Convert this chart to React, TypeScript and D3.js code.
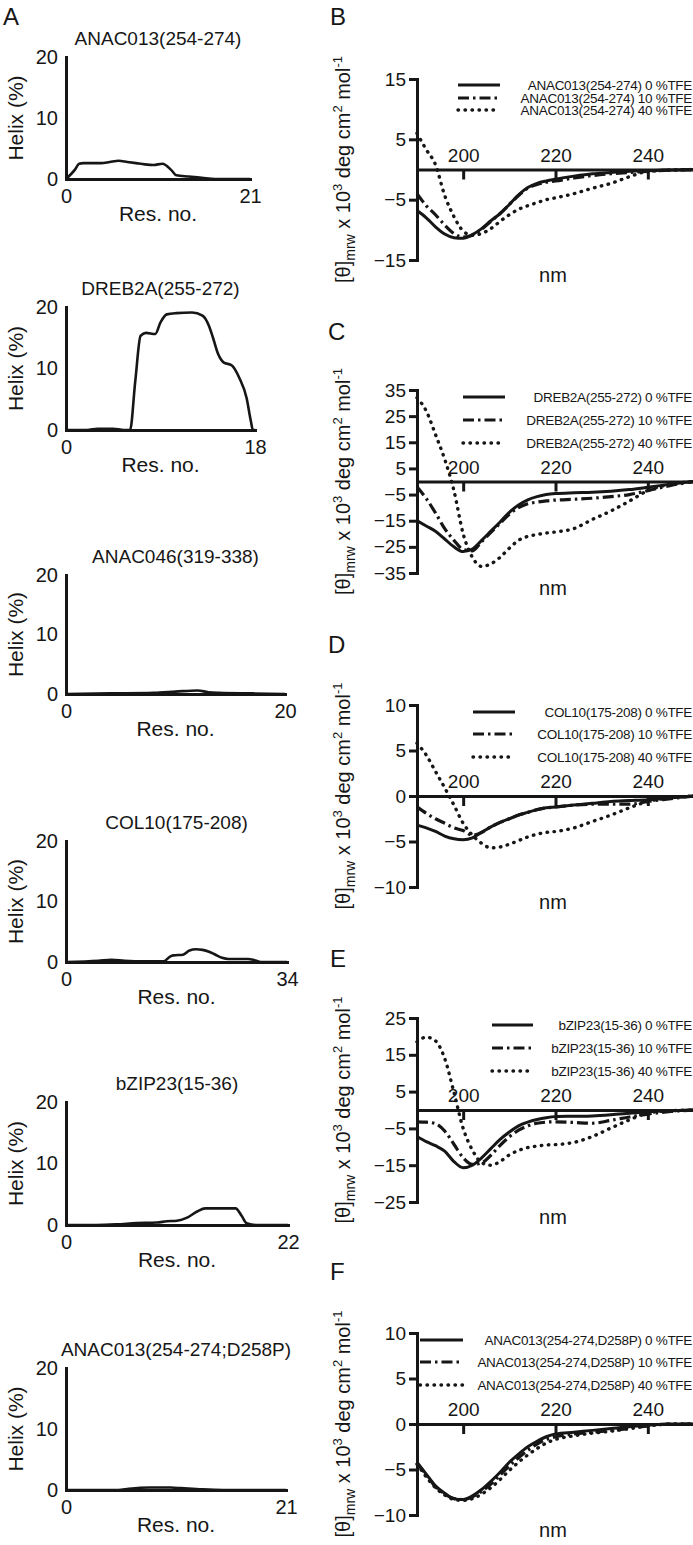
import React, { useEffect, useRef } from "react";
import * as d3 from "d3";

type Pt = [number, number];

// ---- helix propensity per residue (left column) ----
const helixAnac013: Pt[] = [
  [0, 0], [1, 1.5], [1.5, 2.5], [2, 2.6], [4, 2.6], [5, 2.8], [6, 3.0], [7, 2.8],
  [8, 2.6], [9, 2.4], [10, 2.3], [11, 2.5], [12, 1.5], [12.6, 0.6], [14, 0.4],
  [15.5, 0.2], [17, 0], [21, 0],
];
const helixDreb2a: Pt[] = [
  [0, 0], [2, 0], [3, 0.2], [4.5, 0.2], [5.5, 0], [6.1, 0], [6.6, 8], [7.1, 15.3],
  [7.6, 15.8], [8.5, 15.6], [9, 17.5], [9.6, 18.8], [10.5, 19], [12, 19.1],
  [13, 18.6], [13.6, 17], [14, 15], [14.5, 12.3], [15, 11], [15.8, 10.5],
  [16.5, 8.5], [17.2, 5.2], [17.6, 1.5], [17.8, 0], [18, 0],
];
const helixAnac046: Pt[] = [
  [0, 0], [4, 0.1], [8, 0.2], [10, 0.4], [12, 0.6], [13, 0.3], [14, 0.2], [17, 0.1], [20, 0],
];
const helixCol10: Pt[] = [
  [0, 0], [5, 0.2], [7, 0.35], [9, 0.2], [12, 0.1], [15, 0.1], [16, 0.9], [16.5, 1.1],
  [18, 1.2], [19, 1.9], [20, 2.1], [21, 2.0], [22, 1.7], [23, 1.2], [24, 0.7],
  [25, 0.5], [28, 0.5], [29, 0.3], [30, 0], [34, 0],
];
const helixBzip23: Pt[] = [
  [0, 0], [3, 0], [5, 0.1], [7, 0.3], [9, 0.4], [10, 0.6], [11, 0.7], [12, 1.2],
  [13, 2.2], [13.8, 2.7], [16.8, 2.7], [17.4, 1.5], [17.9, 0.3], [19, 0], [22, 0],
];
const helixAnac013D258P: Pt[] = [
  [0, 0], [5, 0], [6, 0.2], [8, 0.4], [10, 0.4], [11, 0.3], [13, 0.1], [15, 0], [21, 0],
];

// ---- CD spectra (right column), x 10^3 deg cm2 mol-1 ----
const wavelengths = [190, 192, 194, 196, 198, 200, 202, 204, 206, 208, 210, 212, 214, 216, 218, 220, 224, 228, 232, 236, 240, 245, 250];

const cdB0 = [-6.8, -8, -9.5, -10.7, -11.3, -11.4, -10.8, -9.8, -8.5, -7.3, -5.8, -4.2, -3, -2.3, -1.9, -1.6, -1.1, -0.7, -0.5, -0.3, -0.2, -0.1, 0];
const cdB10 = [-4, -6, -7.5, -9.2, -10.6, -11.2, -10.9, -9.9, -8.6, -7.3, -5.8, -4.3, -3.1, -2.5, -2.1, -1.9, -1.4, -1, -0.7, -0.5, -0.3, -0.1, 0];
const cdB40 = [6, 3.3, 0.8, -4.3, -7.8, -10.2, -10.9, -10.6, -9.8, -8.6, -7.5, -6.6, -6, -5.5, -5, -4.7, -4, -3.1, -2.3, -1.2, -0.3, -0.1, 0];

const cdC0 = [-15, -17, -19, -22, -25, -26.8, -25.8, -22.5, -19, -15.5, -11.8, -9, -7, -5.8, -5, -4.6, -4.3, -4.1, -3.7, -3.1, -2.2, -1, 0];
const cdC10 = [-2, -6.5, -12, -18, -22.5, -26, -26.5, -23, -19.5, -16, -12.5, -10, -8.5, -7.9, -7.4, -7.1, -6.8, -6.4, -5.8, -5, -3.5, -1.5, 0];
const cdC40 = [32, 27, 18, 8.5, -3.5, -20, -29, -32.5, -31.5, -29, -25.5, -22.5, -21, -20.3, -19.7, -19.3, -18, -14.5, -11.3, -7.5, -3.5, -1, 0];

const cdD0 = [-3.2, -3.5, -3.9, -4.4, -4.7, -4.8, -4.6, -4, -3.4, -2.9, -2.5, -2.1, -1.8, -1.5, -1.3, -1.2, -1, -0.8, -0.6, -0.5, -0.4, -0.2, 0];
const cdD10 = [-1.2, -1.9, -2.5, -3, -3.5, -3.8, -4.3, -4, -3.4, -2.9, -2.5, -2.1, -1.8, -1.5, -1.3, -1.2, -1, -0.9, -0.9, -0.9, -0.6, -0.3, 0];
const cdD40 = [5.8, 4.5, 2.7, 0.9, -1, -3, -4.3, -5.2, -5.7, -5.6, -5.3, -4.9, -4.5, -4.2, -4, -3.9, -3.5, -2.8, -2.1, -1.3, -0.6, -0.2, 0];

const cdE0 = [-7.2, -8.6, -9.7, -11.2, -14, -15.7, -15, -13, -10.5, -8, -6, -4.3, -3.3, -2.6, -2.1, -1.8, -1.7, -1.6, -1.3, -0.9, -0.5, -0.2, 0];
const cdE10 = [-3.2, -3.3, -3.7, -5.7, -9.3, -13, -14.8, -14.4, -12.3, -9.6, -7.3, -5.5, -4.3, -3.6, -3.3, -3.2, -3.4, -3.6, -2.8, -1.9, -1.1, -0.4, 0];
const cdE40 = [18.5, 19.8, 18.8, 14, 4.8, -5, -10.9, -14.3, -15, -14, -12.2, -11, -10.2, -9.8, -9.5, -9.4, -8.8, -7.2, -4.9, -2.7, -0.8, -0.2, 0];

const cdF0 = [-4.2, -5.5, -6.8, -7.6, -8.2, -8.3, -7.9, -7.2, -6.3, -5.3, -4.2, -3.3, -2.5, -1.9, -1.4, -1.1, -0.9, -0.7, -0.5, -0.3, -0.15, 0, 0];
const cdF10 = [-4.3, -5.6, -6.9, -7.7, -8.2, -8.3, -8, -7.4, -6.6, -5.6, -4.6, -3.7, -2.9, -2.2, -1.7, -1.4, -1.1, -0.9, -0.7, -0.5, -0.2, 0, 0];
const cdF40 = [-4.4, -5.8, -7, -7.8, -8.3, -8.4, -8.2, -7.7, -7, -6.1, -5.1, -4.2, -3.4, -2.7, -2.1, -1.7, -1.3, -1, -0.8, -0.5, -0.2, 0, 0];

const tfeLevels = ["0", "10", "40"];
const nmTicks = [200, 220, 240];

const W = 693;
const H = 1545;
const FONT = "'Liberation Sans', Arial, Helvetica, sans-serif";
const INK = "#161616";

const leftPanels = [
  { title: "ANAC013(254-274)", data: helixAnac013, resMax: 21, top: 57, bottom: 179, right: 250 },
  { title: "DREB2A(255-272)", data: helixDreb2a, resMax: 18, top: 307, bottom: 430, right: 255 },
  { title: "ANAC046(319-338)", data: helixAnac046, resMax: 20, top: 575, bottom: 694, right: 285 },
  { title: "COL10(175-208)", data: helixCol10, resMax: 34, top: 841, bottom: 962, right: 287 },
  { title: "bZIP23(15-36)", data: helixBzip23, resMax: 22, top: 1102, bottom: 1225, right: 288 },
  { title: "ANAC013(254-274;D258P)", data: helixAnac013D258P, resMax: 21, top: 1368, bottom: 1490, right: 286 },
];

const rightPanels = [
  { name: "ANAC013(254-274)", series: [cdB0, cdB10, cdB40], ticks: [15, 5, -5, -15], top: 79, bottom: 260, lx: [458, 500], ly: [85, 98, 110] },
  { name: "DREB2A(255-272)", series: [cdC0, cdC10, cdC40], ticks: [35, 25, 15, 5, -5, -15, -25, -35], top: 390, bottom: 573, lx: [463, 505], ly: [397, 420, 443] },
  { name: "COL10(175-208)", series: [cdD0, cdD10, cdD40], ticks: [10, 5, 0, -5, -10], top: 705, bottom: 887, lx: [473, 515], ly: [712, 734, 757] },
  { name: "bZIP23(15-36)", series: [cdE0, cdE10, cdE40], ticks: [25, 15, 5, -5, -15, -25], top: 1018, bottom: 1202, lx: [492, 533], ly: [1025, 1048, 1071] },
  { name: "ANAC013(254-274,D258P)", series: [cdF0, cdF10, cdF40], ticks: [10, 5, 0, -5, -10], top: 1333, bottom: 1515, lx: [420, 463], ly: [1340, 1362, 1385] },
];

const letters: [string, number, number][] = [
  ["A", 3, 25], ["B", 330, 25], ["C", 328, 340], ["D", 328, 653], ["E", 330, 967], ["F", 330, 1280],
];

// solid, dash-dot, dotted
const lineStyles = [
  { dash: null as string | null, width: 3, cap: "butt" },
  { dash: "11,4,2.5,4", width: 3.2, cap: "butt" },
  { dash: "0.5,6.5", width: 3.4, cap: "round" },
];

const App: React.FC = () => {
  const ref = useRef<SVGSVGElement>(null);

  useEffect(() => {
    const svg = d3.select(ref.current);
    svg.selectAll("*").remove();
    svg.append("rect").attr("width", W).attr("height", H).attr("fill", "white");

    letters.forEach(([t, x, y]) => {
      svg.append("text").attr("x", x).attr("y", y).attr("font-size", 24)
        .attr("font-family", FONT).attr("fill", INK).text(t);
    });

    // ---- left column: helix (%) per residue ----
    leftPanels.forEach((p) => {
      const x = d3.scaleLinear().domain([0, p.resMax]).range([66, p.right]);
      const y = d3.scaleLinear().domain([0, 20]).range([p.bottom, p.top]);
      const g = svg.append("g");

      const yAxis = g.append("g").attr("transform", "translate(66,0)")
        .call(d3.axisLeft(y).tickValues([0, 10, 20]).tickSize(0).tickSizeOuter(0).tickPadding(8));
      const xAxis = g.append("g").attr("transform", `translate(0,${p.bottom})`)
        .call(d3.axisBottom(x).tickValues([0, p.resMax]).tickSize(0).tickSizeOuter(0).tickPadding(10));
      [yAxis, xAxis].forEach((a) => {
        a.attr("font-size", 20).attr("font-family", FONT);
        a.select(".domain").attr("stroke", INK).attr("stroke-width", 3).attr("stroke-linecap", "square");
        a.selectAll("text").attr("fill", INK);
      });

      const line = d3.line<Pt>()
        .x((d) => x(d[0]))
        .y((d) => y(d[1]))
        .curve(d3.curveMonotoneX);
      g.append("path").datum(p.data).attr("d", line(p.data) || "")
        .attr("fill", "none").attr("stroke", INK).attr("stroke-width", 2.6);

      const mid = (66 + p.right) / 2;
      g.append("text").attr("x", mid).attr("y", p.top - 12).attr("text-anchor", "middle")
        .attr("font-size", 19).attr("font-family", FONT).attr("fill", INK).text(p.title);
      g.append("text").attr("x", mid).attr("y", p.bottom + 42).attr("text-anchor", "middle")
        .attr("font-size", 21).attr("font-family", FONT).attr("fill", INK).text("Res. no.");
      g.append("text")
        .attr("transform", `translate(23,${(p.top + p.bottom) / 2}) rotate(-90)`)
        .attr("text-anchor", "middle").attr("font-size", 21).attr("font-family", FONT)
        .attr("fill", INK).text("Helix (%)");
    });

    // ---- right column: CD spectra ----
    rightPanels.forEach((p) => {
      const x = d3.scaleLinear().domain([190, 250]).range([417, 694]);
      const yMin = d3.min(p.ticks) || 0;
      const yMax = d3.max(p.ticks) || 0;
      const y = d3.scaleLinear().domain([yMin, yMax]).range([p.bottom, p.top]);
      const g = svg.append("g");

      const yAxis = g.append("g").attr("transform", "translate(417,0)")
        .call(d3.axisLeft(y).tickValues(p.ticks).tickSize(8).tickSizeOuter(0).tickPadding(3));
      const xAxis = g.append("g").attr("transform", `translate(0,${y(0)})`)
        .call(d3.axisBottom(x).tickValues(nmTicks).tickSize(10).tickSizeOuter(0).tickPadding(3));
      [yAxis, xAxis].forEach((a) => {
        a.attr("font-size", 19).attr("font-family", FONT);
        a.select(".domain").attr("stroke", INK).attr("stroke-width", 3).attr("stroke-linecap", "square");
        a.selectAll(".tick line").attr("stroke", INK).attr("stroke-width", 3);
        a.selectAll("text").attr("fill", INK);
      });
      // nm labels sit above the zero line
      xAxis.selectAll(".tick text").attr("y", -8).attr("dy", "0");

      p.series.forEach((vals, i) => {
        const pts: Pt[] = wavelengths.map((w, k) => [w, vals[k]]);
        const line = d3.line<Pt>()
          .x((d) => x(d[0]))
          .y((d) => y(d[1]))
          .curve(d3.curveMonotoneX);
        const st = lineStyles[i];
        const path = g.append("path").datum(pts).attr("d", line(pts) || "")
          .attr("fill", "none").attr("stroke", INK).attr("stroke-width", st.width)
          .attr("stroke-linecap", st.cap);
        if (st.dash) path.attr("stroke-dasharray", st.dash);

        // legend
        const leg = g.append("line").attr("x1", p.lx[0]).attr("x2", p.lx[1])
          .attr("y1", p.ly[i]).attr("y2", p.ly[i])
          .attr("stroke", INK).attr("stroke-width", st.width).attr("stroke-linecap", st.cap);
        if (st.dash) leg.attr("stroke-dasharray", st.dash);
        g.append("text").attr("x", 692).attr("y", p.ly[i] + 4.5).attr("text-anchor", "end")
          .attr("font-size", 13.5).attr("letter-spacing", -0.3).attr("font-family", FONT)
          .attr("fill", INK).text(`${p.name} ${tfeLevels[i]} %TFE`);
      });

      g.append("text").attr("x", 553).attr("y", p.bottom + 22).attr("text-anchor", "middle")
        .attr("font-size", 20).attr("font-family", FONT).attr("fill", INK).text("nm");

      const lab = g.append("text")
        .attr("transform", `translate(350,${(p.top + p.bottom) / 2}) rotate(-90)`)
        .attr("text-anchor", "middle").attr("font-size", 20).attr("font-family", FONT)
        .attr("fill", INK);
      lab.append("tspan").text("[θ]");
      lab.append("tspan").attr("font-size", 14).attr("dy", 5).text("mrw");
      lab.append("tspan").attr("dy", -5).text(" x 10");
      lab.append("tspan").attr("font-size", 13).attr("dy", -8).text("3");
      lab.append("tspan").attr("dy", 8).text(" deg cm");
      lab.append("tspan").attr("font-size", 13).attr("dy", -8).text("2");
      lab.append("tspan").attr("dy", 8).text(" mol");
      lab.append("tspan").attr("font-size", 13).attr("dy", -8).text("-1");
    });
  });

  return (
    <svg
      ref={ref}
      width={W}
      height={H}
      style={{ position: "absolute", left: 0, top: 0, display: "block" }}
    ></svg>
  );
};

export default App;
